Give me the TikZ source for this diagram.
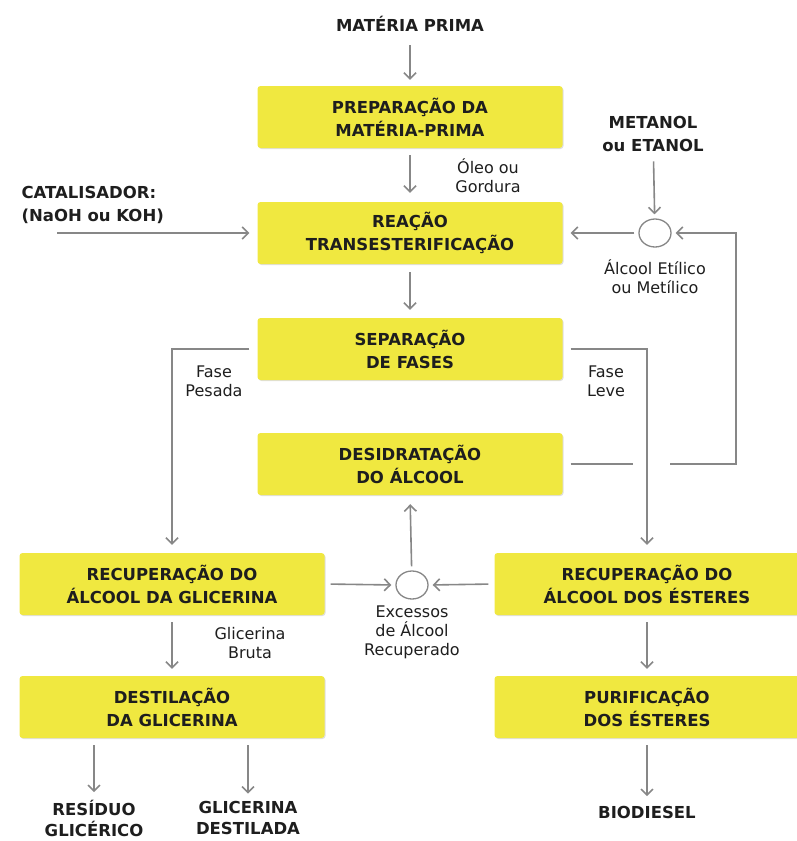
\documentclass[tikz,border=0pt]{standalone}
\usepackage{fontspec}
\setmainfont{DejaVu Sans}
\usetikzlibrary{arrows.meta}
\usetikzlibrary{shadows}
\usepgflibrary{shapes.geometric}
\definecolor{boxyellow}{RGB}{240,232,64}
\definecolor{linegray}{RGB}{135,135,135}
\definecolor{txtdark}{RGB}{30,30,30}

\begin{document}
\begin{tikzpicture}[x=1pt, y=-1pt,
          box/.style={fill=boxyellow, rounded corners=3pt, minimum width=305pt, minimum height=62pt,
            align=center, text=txtdark, font=\bfseries\fontsize{16.5}{23}\selectfont,
            drop shadow={shadow xshift=1pt, shadow yshift=-1pt, opacity=0.25}},
          io/.style={align=center, text=txtdark, font=\bfseries\fontsize{16.5}{23}\selectfont},
          lbl/.style={align=center, text=txtdark, font=\fontsize{16}{19}\selectfont},
          flow/.style={draw=linegray, line width=1.6pt, -{Straight Barb[length=6pt,width=12pt]}},
          pipe/.style={draw=linegray, line width=1.6pt},
          mixer/.style={ellipse, draw=linegray, line width=1.3pt, fill=white, minimum width=32pt, minimum height=28pt}]

          \useasboundingbox (0,0) rectangle (797,841);

          \node[io] (mp) at (410,24) {MATÉRIA PRIMA};
          \node[box] (prep) at (410,117) {PREPARAÇÃO DA\\MATÉRIA-PRIMA};
          \node[box] (reac) at (410,233) {REAÇÃO\\TRANSESTERIFICAÇÃO};
          \node[box] (sep) at (410,349) {SEPARAÇÃO\\DE FASES};
          \node[box] (desid) at (410,464) {DESIDRATAÇÃO\\DO ÁLCOOL};
          \node[box] (recL) at (172,584) {RECUPERAÇÃO DO\\ÁLCOOL DA GLICERINA};
          \node[box] (recR) at (647,584) {RECUPERAÇÃO DO\\ÁLCOOL DOS ÉSTERES};
          \node[box] (dest) at (172,707) {DESTILAÇÃO\\DA GLICERINA};
          \node[box] (purif) at (647,707) {PURIFICAÇÃO\\DOS ÉSTERES};

          \node[io, align=left, anchor=west] (cat) at (18,205) {CATALISADOR:\\(NaOH ou KOH)};
          \node[io] (met) at (653,134) {METANOL\\ou ETANOL};
          \node[mixer] (mixA) at (655,233) {};
          \node[lbl] (alc) at (655,277) {Álcool Etílico\\ou Metílico};
          \node[lbl] (oleo) at (488,176) {Óleo ou\\Gordura};
          \node[lbl] (pesada) at (214,381) {Fase\\Pesada};
          \node[lbl] (leve) at (606,381) {Fase\\Leve};
          \node[mixer] (mixB) at (412,585) {};
          \node[lbl] (exc) at (412,632) {Excessos\\de Álcool\\Recuperado};
          \node[lbl] (bruta) at (250,643) {Glicerina\\Bruta};
          \node[io, font=\bfseries\fontsize{16.5}{21}\selectfont] (resid) at (94,818) {RESÍDUO\\GLICÉRICO};
          \node[io, font=\bfseries\fontsize{16.5}{21}\selectfont] (glic) at (248,818) {GLICERINA\\DESTILADA};
          \node[io] (bio) at (647,812) {BIODIESEL};

          \coordinate (catin) at (57,233);
          \coordinate (fbturn) at (736,464);
          \coordinate (jumpL) at (633,464);
          \coordinate (jumpR) at (670,464);

          \draw[flow, shorten <=10pt, shorten >=6pt] (mp) -- (prep);
          \draw[flow, shorten <=7pt, shorten >=9pt] (prep) -- (reac);
          \draw[flow, shorten >=8pt] (catin) -- (reac.west);
          \draw[flow, shorten <=6pt, shorten >=4pt] (met) -- (mixA);
          \draw[flow, shorten <=4pt, shorten >=8pt] (mixA) -- (reac.east);
          \draw[pipe, shorten <=8pt] (desid.east) -- (jumpL);
          \draw[flow, shorten >=4pt] (jumpR) -- (fbturn) |- (mixA.east);

          \draw[flow, shorten <=8pt, shorten >=8pt] (reac) -- (sep);
          \draw[flow, shorten <=8pt, shorten >=8pt] (sep.west) -| (recL.north);
          \draw[flow, shorten <=8pt, shorten >=8pt] (sep.east) -| (recR.north);

          \draw[flow, shorten <=4pt, shorten >=9pt] (mixB) -- (desid.south);
          \draw[flow, shorten <=6pt, shorten >=4pt] (recL.east) -- (mixB.west);
          \draw[flow, shorten <=6pt, shorten >=4pt] (recR.west) -- (mixB.east);

          \draw[flow, shorten <=7pt, shorten >=7pt] (recL) -- (dest);
          \draw[flow, shorten <=7pt, shorten >=7pt] (recR) -- (purif);
          \draw[flow, shorten <=7pt, shorten >=4pt] (resid |- dest.south) -- (resid);
          \draw[flow, shorten <=7pt, shorten >=4pt] (glic |- dest.south) -- (glic);
          \draw[flow, shorten <=7pt, shorten >=6pt] (purif) -- (bio);

        \end{tikzpicture}
\end{document}
